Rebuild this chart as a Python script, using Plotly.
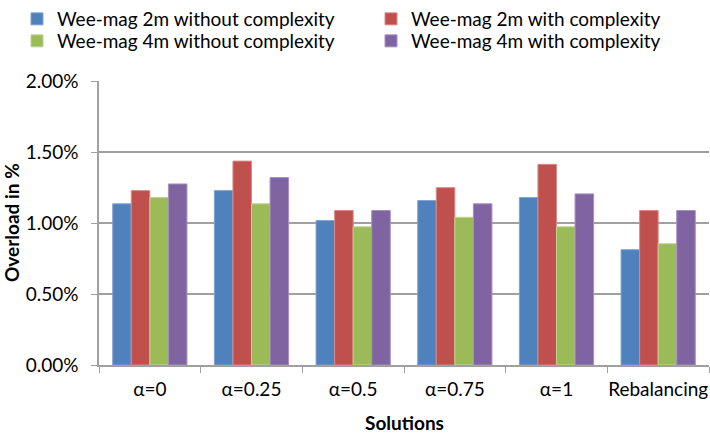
import plotly.graph_objects as go

categories = ["α=0", "α=0.25", "α=0.5", "α=0.75", "α=1", "Rebalancing"]
series_names = [
    "Wee-mag 2m without complexity",
    "Wee-mag 2m with complexity",
    "Wee-mag 4m without complexity",
    "Wee-mag 4m with complexity",
]
mag2_without = [1.135, 1.228, 1.017, 1.158, 1.179, 0.812]
mag2_with = [1.228, 1.436, 1.088, 1.249, 1.413, 1.088]
mag4_without = [1.179, 1.135, 0.973, 1.040, 0.973, 0.854]
mag4_with = [1.275, 1.320, 1.088, 1.135, 1.205, 1.088]
y_ticks = [0, 0.5, 1.0, 1.5, 2.0]
x_title = "Solutions"
y_title = "Overload in %"

colors = ["#4F81BD", "#C0504D", "#9BBB59", "#8064A2"]
edge = ["#7FA3D3", "#DA8A88", "#BCD491", "#A690C3"]
values = [mag2_without, mag2_with, mag4_without, mag4_with]
legend_ids = ["legend", "legend2", "legend3", "legend4"]
# legend placement (container fractions): column x, row y
legend_pos = [(17 / 710, 1.0), (371 / 710, 1.0),
              (17 / 710, 0.9492), (371 / 710, 0.9492)]

FONT = "Lato"
FS = 19

fig = go.Figure()
for name, vals, c, e, lg in zip(series_names, values, colors, edge, legend_ids):
    fig.add_trace(go.Bar(
        x=categories,
        y=[v / 100 for v in vals],
        name=name,
        legend=lg,
        marker=dict(color=c, line=dict(color=e, width=1)),
    ))

legend_layout = {}
for lg, (lx, ly) in zip(legend_ids, legend_pos):
    legend_layout[lg] = dict(
        orientation="v",
        xref="container", yref="container",
        xanchor="left", yanchor="top", x=lx, y=ly,
        font=dict(family=FONT, size=FS, color="#000000"),
        bgcolor="rgba(0,0,0,0)",
    )

fig.update_layout(
    width=710, height=433,
    margin=dict(l=99, r=1, t=81, b=68, autoexpand=False),
    paper_bgcolor="white", plot_bgcolor="white",
    barmode="group", bargap=0.27, bargroupgap=0,
    font=dict(family=FONT, size=FS, color="#000000"),
    showlegend=True,
    **legend_layout,
)
fig.update_xaxes(
    type="category",
    showline=True, linecolor="#A0A0A0", linewidth=1.5,
    ticks="outside", tickson="boundaries", ticklen=6, tickcolor="#A0A0A0",
    tickfont=dict(family=FONT, size=FS),
    tickangle=0,
    ticklabelstandoff=6,
    showgrid=False,
)
fig.update_yaxes(
    range=[0, 0.02],
    tickvals=[t / 100 for t in y_ticks],
    tickformat=".2%",
    showline=True, linecolor="#A0A0A0", linewidth=1.5,
    ticks="outside", ticklen=6, tickcolor="#A0A0A0",
    ticklabelstandoff=9,
    showgrid=True, gridcolor="#A0A0A0", gridwidth=1.5,
    zeroline=False,
    tickfont=dict(family=FONT, size=FS),
)
fig.add_annotation(
    text=f"<b>{y_title}</b>", textangle=-90,
    xref="paper", yref="paper", x=(11 - 99) / 610, y=0.5,
    xanchor="center", yanchor="middle", showarrow=False,
    font=dict(family=FONT, size=FS, color="#000000"),
)
fig.add_annotation(
    text=f"<b>{x_title}</b>",
    xref="paper", yref="paper", x=0.5, y=(365 - 422) / 284,
    xanchor="center", yanchor="middle", showarrow=False,
    font=dict(family=FONT, size=FS, color="#000000"),
)

fig.write_html("out.html", config={"displayModeBar": False},
               post_script="document.body.style.margin='0';")
